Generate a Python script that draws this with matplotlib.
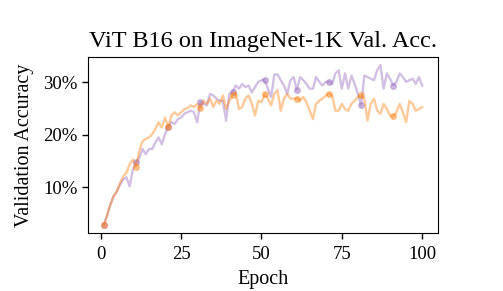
import matplotlib
matplotlib.use("Agg")
import matplotlib.pyplot as plt
from matplotlib.ticker import PercentFormatter
import numpy as np

epochs = list(range(1, 101))

acc_orange = [2.8, 4.7, 6.7, 8.3, 9.2, 10.8, 12.1, 12.8, 14.4, 15.3,
              13.9, 16.9, 18.8, 19.2, 19.5, 20.1, 21.1, 22.4, 21.4, 23.3,
              21.5, 23.7, 24.3, 23.7, 24.3, 24.9, 25.1, 25.6, 25.3, 25.9,
              25.1, 26.5, 25.9, 26.9, 25.3, 26.5, 25.9, 27.5, 24.9, 26.5,
              27.5, 28.1, 24.9, 25.3, 26.9, 27.5, 25.9, 23.7, 26.5, 26.2,
              27.8, 26.9, 25.6, 27.8, 28.5, 24.6, 26.9, 27.8, 26.9, 26.9,
              26.9, 26.5, 27.2, 26.2, 24.6, 23.0, 25.9, 26.5, 26.9, 27.5,
              27.8, 27.5, 24.6, 24.6, 25.9, 24.9, 24.6, 25.9, 26.5, 27.2,
              27.5, 26.9, 22.7, 25.9, 26.9, 24.6, 24.0, 25.9, 24.9, 23.7,
              23.5, 24.3, 25.9, 24.3, 22.4, 26.5, 25.9, 24.6, 24.9, 25.3]

acc_purple = [2.8, 4.7, 6.7, 8.3, 9.2, 10.5, 11.5, 11.9, 10.2, 13.4,
              14.8, 15.6, 17.3, 16.3, 17.3, 17.3, 18.5, 19.5, 18.2, 20.1,
              21.5, 22.4, 22.1, 23.0, 23.3, 24.0, 24.3, 24.6, 24.3, 22.4,
              26.2, 25.9, 25.6, 27.8, 27.5, 26.9, 26.5, 26.5, 22.7, 27.8,
              28.1, 29.4, 28.8, 29.7, 29.1, 29.4, 28.1, 29.1, 30.1, 30.4,
              30.5, 28.8, 27.2, 31.5, 31.5, 30.4, 29.4, 27.8, 30.4, 31.0,
              28.5, 31.0, 30.4, 29.7, 28.8, 28.8, 31.0, 30.1, 29.4, 30.1,
              30.1, 29.7, 31.7, 32.3, 28.8, 31.7, 28.8, 31.3, 29.7, 27.8,
              25.6, 31.3, 31.0, 30.7, 30.4, 32.3, 33.3, 28.8, 31.7, 30.7,
              29.4, 30.1, 31.7, 31.0, 30.1, 30.4, 30.7, 29.7, 31.0, 29.4]

x_ticks = [0, 25, 50, 75, 100]
y_ticks = [10, 20, 30]

plt.rcParams['font.family'] = ['Liberation Serif', 'DejaVu Serif']

fig = plt.figure(figsize=(5.03, 2.91), dpi=100)
ax = fig.add_axes([0.175, 0.199, 0.696, 0.605])

ax.plot(epochs, acc_purple, color='#9467bd', alpha=0.42, lw=1.7,
        marker='o', ms=4, markevery=10)
ax.plot(epochs, acc_orange, color='#ff7f0e', alpha=0.42, lw=1.7,
        marker='o', ms=4, markevery=10)

ax.set_xticks(x_ticks)
ax.set_yticks(y_ticks)
ax.yaxis.set_major_formatter(PercentFormatter(xmax=100, decimals=0))
ax.tick_params(labelsize=13.5, length=4, width=1)
ax.tick_params(axis='x', pad=5)
ax.set_xlabel('Epoch', fontsize=14.5, labelpad=5)
ax.set_ylabel('Validation Accuracy', fontsize=14.5, labelpad=7)
ax.set_title('ViT B16 on ImageNet-1K Val. Acc.', fontsize=17.5, pad=7)

fig.savefig('out.png', dpi=100)
